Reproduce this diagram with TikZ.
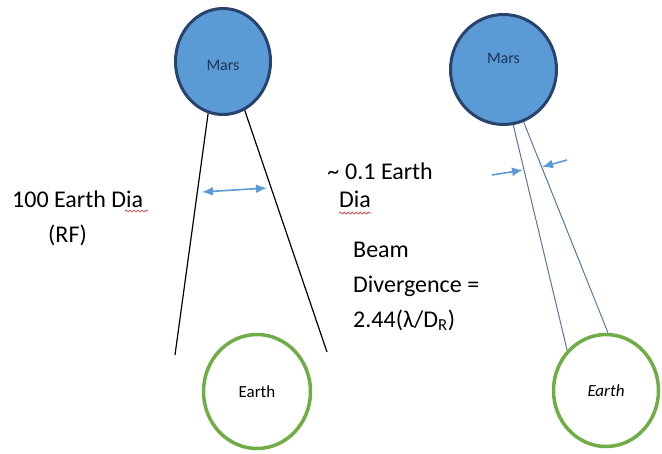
\documentclass[tikz,border=0pt]{standalone}
\usepackage{fontspec}
\setmainfont{Carlito}
\usetikzlibrary{arrows.meta,shapes.geometric,decorations.pathmorphing}
\definecolor{marsblue}{RGB}{91,155,213}
\definecolor{marsedge}{RGB}{40,68,110}
\definecolor{marstext}{RGB}{30,50,90}
\definecolor{earthgreen}{RGB}{112,173,71}
\definecolor{beamblue}{RGB}{84,118,160}
\definecolor{spellred}{RGB}{220,40,40}
\tikzset{txt/.style={align=left,inner sep=0pt,anchor=base west,font=\fontsize{24}{35}\selectfont}}

\begin{document}
\begin{tikzpicture}[x=1pt,y=-1pt,
            mars/.style={ellipse,draw=marsedge,line width=3pt,fill=marsblue,
              text=marstext,inner sep=0pt,font=\fontsize{16}{16}\selectfont},
            earth/.style={ellipse,draw=earthgreen,line width=3.5pt,fill=white,
              inner sep=0pt,font=\fontsize{17}{17}\selectfont},
            beam/.style={line width=1.2pt},
            dimarrow/.style={draw=marsblue,line width=1.6pt},
            spellwave/.style={draw=spellred,line width=0.7pt,
              decorate,decoration={snake,segment length=4pt,amplitude=1pt}}
            ]
            \useasboundingbox (0,0) rectangle (662,453);
            % RF link
            \node[mars,minimum width=95pt,minimum height=106pt,text height=18pt] (marsL) at (223,61.5) {Mars};
            \node[earth,minimum width=107pt,minimum height=114pt] (earthL) at (257,391.5) {Earth};
            \coordinate (endL) at (175,355);
            \coordinate (endR) at (327,352);
            \draw[beam] (marsL.254) -- (endL);
            \draw[beam] (marsL.294) -- (endR);
            \coordinate (wL) at (202,192);
            \coordinate (wR) at (267,188);
            \draw[dimarrow,{Latex[length=11pt,width=9pt]}-{Latex[length=11pt,width=9pt]}] (wL) -- (wR);
            \node[txt] (rfText) at (12,242) {100 Earth Dia\\\hspace*{36pt}(RF)};
            \coordinate (waveL) at (125,211);
            \draw[spellwave] (waveL) -- ++(23,0);
            % optical link
            \node[mars,minimum width=106pt,minimum height=110pt,text depth=22pt] (marsR) at (503.5,69.5) {Mars};
            \node[earth,minimum width=105pt,minimum height=112pt] (earthR) at (606,390.5) {\itshape Earth};
            \draw[beam,draw=beamblue,line width=1pt] (marsR.280) -- (earthR.134);
            \draw[beam,draw=beamblue,line width=1pt] (marsR.291) -- (earthR.88);
            \coordinate (nA) at (492,175);
            \coordinate (nAtip) at (523,170);
            \coordinate (nB) at (567,160);
            \coordinate (nBtip) at (542,167);
            \draw[dimarrow,-{Latex[length=11pt,width=9pt]}] (nA) -- (nAtip);
            \draw[dimarrow,-{Latex[length=11pt,width=9pt]}] (nB) -- (nBtip);
            \node[txt,font=\fontsize{24}{28}\selectfont] (diaText) at (339,207)
                {\llap{\textasciitilde}\hspace*{6pt}0.1 Earth\\Dia};
            \coordinate (waveR) at (339,213);
            \draw[spellwave] (waveR) -- ++(32,0);
            \node[txt] (beamText) at (353,327) {Beam\\Divergence =\\2.44(λ/D\textsubscript{R})};
\end{tikzpicture}
\end{document}
